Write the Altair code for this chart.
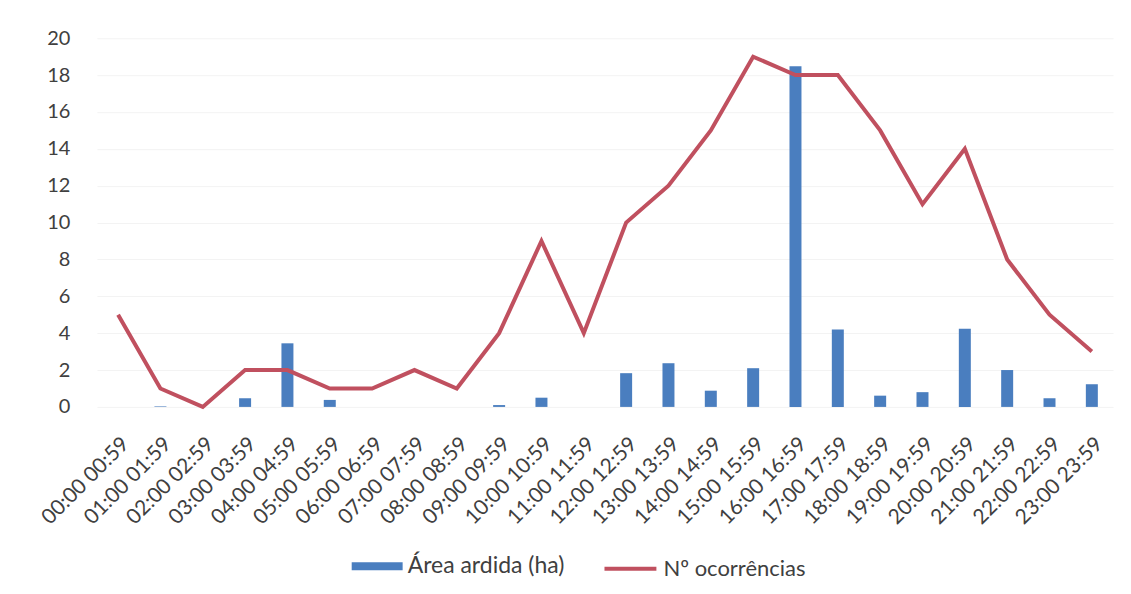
import altair as alt
import pandas as pd

hours = ["00:00 00:59", "01:00 01:59", "02:00 02:59", "03:00 03:59", "04:00 04:59",
         "05:00 05:59", "06:00 06:59", "07:00 07:59", "08:00 08:59", "09:00 09:59",
         "10:00 10:59", "11:00 11:59", "12:00 12:59", "13:00 13:59", "14:00 14:59",
         "15:00 15:59", "16:00 16:59", "17:00 17:59", "18:00 18:59", "19:00 19:59",
         "20:00 20:59", "21:00 21:59", "22:00 22:59", "23:00 23:59"]
area_ardida = [0.0, 0.03, 0.0, 0.47, 3.45, 0.38, 0.0, 0.0, 0.0, 0.1,
               0.5, 0.0, 1.83, 2.37, 0.88, 2.1, 18.48, 4.2, 0.61, 0.8,
               4.24, 2.0, 0.47, 1.23]
ocorrencias = [5, 1, 0, 2, 2, 1, 1, 2, 1, 4, 9, 4, 10, 12, 15, 19, 18, 18, 15, 11, 14, 8, 5, 3]

S1 = "Área ardida (ha)"
S2 = "Nº ocorrências"

df = pd.DataFrame({
    "hora": hours,
    "area": area_ardida,
    "oc": ocorrencias,
    "s1": [S1] * len(hours),
    "s2": [S2] * len(hours),
})

FONT = "Lato"
TXT = "#404040"

x = alt.X("hora:N", sort=hours, title=None,
          scale=alt.Scale(paddingInner=0, paddingOuter=0),
          axis=alt.Axis(labelAngle=-45, labelFontSize=21, labelColor=TXT, labelFont=FONT,
                        ticks=False, domain=False, labelPadding=26, grid=False))
y_scale = alt.Scale(domain=[0, 20])
y_axis = alt.Axis(values=list(range(0, 21, 2)), labelFontSize=20, labelColor=TXT, labelFont=FONT,
                  ticks=False, domain=False, labelPadding=27, gridColor="#F3F3F3", gridWidth=1,
                  title=None)

bars = alt.Chart(df).mark_bar(size=12).encode(
    x=x,
    y=alt.Y("area:Q", scale=y_scale, axis=y_axis, title=None),
    color=alt.Color("s1:N", scale=alt.Scale(domain=[S1], range=["#4A7EBF"]),
                    legend=alt.Legend(title=None, orient="none", legendX=255, legendY=503,
                                      symbolType="M-1,-0.16L1,-0.16L1,0.16L-1,0.16Z",
                                      symbolSize=2600, symbolStrokeWidth=0,
                                      labelFontSize=23, labelFont=FONT, labelColor=TXT,
                                      labelOffset=5)),
)

line = alt.Chart(df).mark_line(strokeWidth=4).encode(
    x=x,
    y=alt.Y("oc:Q", scale=y_scale, axis=y_axis, title=None),
    color=alt.Color("s2:N", scale=alt.Scale(domain=[S2], range=["#C0505F"]),
                    legend=alt.Legend(title=None, orient="none", legendX=506, legendY=503,
                                      symbolType="stroke", symbolSize=2700, symbolStrokeWidth=4,
                                      labelFontSize=22, labelFont=FONT, labelColor=TXT,
                                      labelOffset=5)),
)

chart = alt.layer(bars, line).resolve_scale(color="independent").resolve_legend(
    color="independent"
).properties(
    width=1017, height=369,
    autosize=alt.AutoSizeParams(type="none"),
    padding={"left": 89, "top": 30, "right": 10, "bottom": 200},
    background="white",
).configure_view(stroke=None)

chart.save("out.html", embed_options={"renderer": "svg", "actions": False})
